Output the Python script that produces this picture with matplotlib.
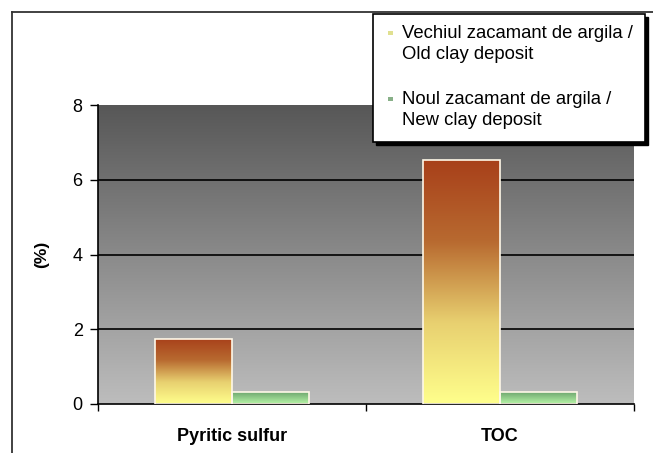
import numpy as np
import matplotlib
matplotlib.use("Agg")
import matplotlib.pyplot as plt
from matplotlib.colors import LinearSegmentedColormap
from matplotlib.patches import Rectangle
from matplotlib.lines import Line2D

categories = ["Pyritic sulfur", "TOC"]
series_names = ["Vechiul zacamant de argila /\nOld clay deposit",
                "Noul zacamant de argila /\nNew clay deposit"]
old_values = [1.74, 6.52]
new_values = [0.31, 0.31]
y_ticks = [0, 2, 4, 6, 8]

plt.rcParams['font.family'] = ['Liberation Sans', 'DejaVu Sans']

fig = plt.figure(figsize=(6.53, 4.53), dpi=100)
W, H = 653, 453
ax = fig.add_axes([98 / W, 1 - 404 / H, (634 - 98) / W, (404 - 105) / H])
ax.set_facecolor('none')

def fx(px):
    return px / W

def fy(py):
    return 1 - py / H

# figure border (left/top)
fig.add_artist(Line2D([fx(12), fx(12)], [0, fy(12)], color='#333333', lw=1.3))
fig.add_artist(Line2D([fx(12), 1], [fy(12), fy(12)], color='#333333', lw=1.3))

x = np.arange(len(categories))
bw = 0.287

# background gradient
bg_cmap = LinearSegmentedColormap.from_list('bg', ['#bdbdbd', '#575757'])
grad = np.linspace(0, 1, 256).reshape(-1, 1)
ax.imshow(grad, cmap=bg_cmap, origin='lower', aspect='auto',
          extent=[-0.5, len(categories) - 0.5, 0, 8], zorder=0)

for yv in y_ticks[1:-1]:
    ax.axhline(yv, color='black', lw=1.2, zorder=1)

old_cmap = LinearSegmentedColormap.from_list('old', ['#ffff8c', '#e8d070', '#b86a30', '#a8401a'])
new_cmap = LinearSegmentedColormap.from_list('new', ['#b8f5a8', '#6fa86f'])

def grad_bars(xs, vals, cmap):
    bars = ax.bar(xs, vals, width=bw, facecolor='none', edgecolor='#fff8e8', lw=1.2, zorder=3)
    for b in bars:
        x0, y0 = b.get_x(), b.get_y()
        im = ax.imshow(grad, cmap=cmap, origin='lower', aspect='auto',
                       extent=[x0, x0 + b.get_width(), y0, y0 + b.get_height()], zorder=2)
        im.set_clip_path(b)
    return bars

grad_bars(x - bw / 2, old_values, old_cmap)
grad_bars(x + bw / 2, new_values, new_cmap)
ax.set_xlim(-0.5, len(categories) - 0.5)
ax.set_ylim(0, 8)

for s in ['top', 'right']:
    ax.spines[s].set_visible(False)
ax.spines['left'].set_color('black')
ax.spines['bottom'].set_color('black')
ax.spines['left'].set_linewidth(1.2)
ax.spines['bottom'].set_linewidth(1.2)

ax.set_yticks(y_ticks)
ax.set_yticklabels([str(v) for v in y_ticks], fontsize=13)
ax.tick_params(axis='y', length=6, direction='out', width=1, pad=5)
ax.set_xticks([-0.5, 0.5, 1.5])
ax.set_xticklabels([])
ax.set_xticks(x, minor=True)
ax.set_xticklabels(categories, minor=True, fontsize=13, fontweight='bold')
ax.tick_params(axis='x', which='major', length=5, direction='out', width=1)
ax.tick_params(axis='x', which='minor', length=0, pad=17)

ax.set_ylabel('(%)', fontsize=12.5, fontweight='bold')
ax.yaxis.set_label_coords((49 - 98) / 536, 0.5)

# legend box (drawn manually to match the original layout)
lx0, lx1, ly0, ly1 = 373, 645, 14, 142
fig.add_artist(Rectangle((fx(lx0 + 3), fy(ly1 + 3)), fx(lx1 - lx0), (ly1 - ly0) / H,
                         facecolor='black', edgecolor='black', lw=1))
fig.add_artist(Rectangle((fx(lx0), fy(ly1)), fx(lx1 - lx0), (ly1 - ly0) / H,
                         facecolor='white', edgecolor='black', lw=1.2))
marker_colors = ['#e0e090', '#88b088']
label_tops = [25, 91]
for name, col, top in zip(series_names, marker_colors, label_tops):
    fig.add_artist(Rectangle((fx(388), fy(top + 10)), fx(5), 4 / H,
                             facecolor=col, edgecolor='none'))
    fig.text(fx(402), fy(top), name, fontsize=13.3, va='top', ha='left',
             linespacing=1.3)

fig.savefig('out.png', dpi=100)
